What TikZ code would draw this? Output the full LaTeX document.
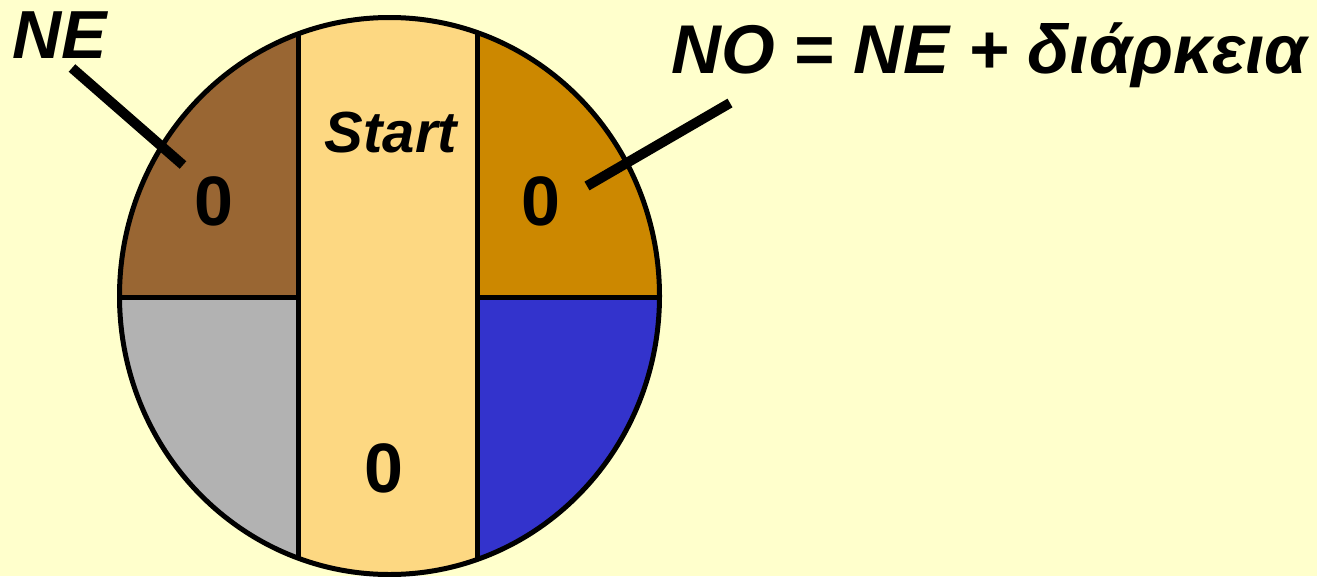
\documentclass[tikz,border=0pt]{standalone}
\usepackage{fontspec}
\setmainfont{Liberation Sans}
\definecolor{bg}{HTML}{FFFFCC}
\definecolor{brownc}{HTML}{996633}
\definecolor{grayc}{HTML}{B2B2B2}
\definecolor{startc}{HTML}{FDD882}
\definecolor{orangec}{HTML}{CC8800}
\definecolor{bluec}{HTML}{3333CC}
\tikzset{
  lbl/.style={inner sep=0pt, anchor=base west, font=\fontsize{68}{68}\selectfont\bfseries\itshape},
  num/.style={inner sep=0pt, anchor=base, font=\fontsize{70}{70}\selectfont\bfseries},
  pointer/.style={line width=10pt},
  divider/.style={line width=5pt}
}
\begin{document}
\begin{tikzpicture}[x=1pt,y=-1pt]
\useasboundingbox (0,0) rectangle (1317,576);
\fill[bg] (0,0) rectangle (1317,576);
\begin{scope}
\clip (389.5,296) ellipse [x radius=270, y radius=278.5];
\fill[brownc] (100,0) rectangle (298,297);
\fill[grayc] (100,297) rectangle (298,600);
\fill[startc] (298,0) rectangle (477,600);
\fill[orangec] (477,0) rectangle (680,297);
\fill[bluec] (477,297) rectangle (680,600);
\draw[divider] (100,297) -- (298,297);
\draw[divider] (477,297) -- (680,297);
\draw[divider] (298,0) -- (298,600);
\draw[divider] (477,0) -- (477,600);
\end{scope}
\draw[divider] (389.5,296) ellipse [x radius=270, y radius=278.5];
\node[lbl] (ne) at (12,58) {NE};
\node[lbl, font=\fontsize{69}{69}\selectfont\bfseries\itshape] (no) at (671,73) {NO = NE + διάρκεια};
\node[inner sep=0pt, anchor=base, font=\fontsize{58}{58}\selectfont\bfseries\itshape] (start) at (391,152) {Start};
\node[num] (z1) at (214,225) {0};
\node[num] (z2) at (541,225) {0};
\node[num] (z3) at (384,492) {0};
\coordinate (neA) at (72,68);
\coordinate (neB) at (183,165);
\coordinate (noA) at (730,103);
\coordinate (noB) at (587,186);
\draw[pointer] (neA) -- (neB);
\draw[pointer] (noA) -- (noB);
\end{tikzpicture}
\end{document}
